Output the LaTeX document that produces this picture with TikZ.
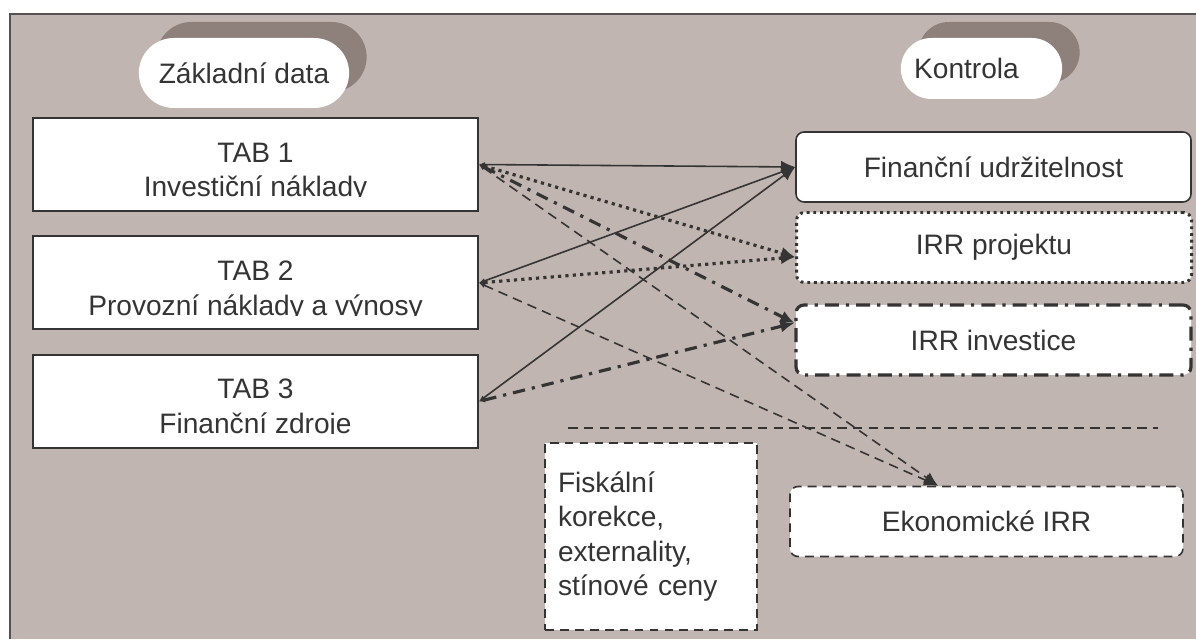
\documentclass[tikz,border=0pt]{standalone}
\usepackage{fontspec}
\setmainfont{Liberation Sans}
\usetikzlibrary{arrows.meta, positioning, shadows, shapes.misc}

\definecolor{panel}{RGB}{192,181,176}
\definecolor{shade}{RGB}{142,128,122}
\definecolor{ink}{RGB}{52,52,52}

\begin{document}
\begin{tikzpicture}[font=\fontsize{16}{19}\selectfont, text=ink, tabbox/.style={draw=ink, line width=1.1pt, fill=white, minimum width=8.9cm, minimum height=1.86cm}, pill/.style={rounded rectangle, fill=white, minimum height=1.4cm, drop shadow={shadow xshift=0.35cm, shadow yshift=0.32cm, fill=shade, opacity=1}}, kbox/.style={draw=ink, fill=white, rounded corners=0.16cm, minimum width=7.9cm, minimum height=1.4cm}, link/.style={draw=ink, {Latex[length=3.5pt,width=3pt]}-{Latex[length=8pt,width=7pt]}}, solidlink/.style={link, line width=0.9pt}, dotlink/.style={link, line width=1.8pt, dash pattern=on 1.8pt off 2.4pt}, dashdotlink/.style={link, line width=1.8pt, dash pattern=on 7pt off 4pt on 1.8pt off 4pt}, dashlink/.style={link, line width=0.9pt, dash pattern=on 5.5pt off 3.5pt}]
\useasboundingbox (0,0) rectangle (23.92,12.78);
\fill[panel] (0.2,0) rectangle (23.92,12.5);
\draw[line width=0.9pt, draw=ink!85] (0.2,0) -- (0.2,12.5) -- (23.92,12.5);
% headings
\node[pill, minimum width=4.44cm] (zaklad) at (4.88,11.32){Základní data};
\node[pill, minimum width=3.46cm, minimum height=1.22cm] (kontrola) at (19.63,11.41){Kontrola\hspace*{0.6cm}};
% input tables
\node[tabbox] (tab1) at (5.11,9.49){};
\node[tabbox, below=0.47cm of tab1] (tab2){};
\node[tabbox, below=0.47cm of tab2] (tab3){};
\foreach \i/\sub in {1/Investiční náklady, 2/Provozní náklady a výnosy, 3/Finanční zdroje} {\node[anchor=base] (head\i) at ([yshift=-0.9cm]tab\i.north){TAB \i}; \begin{scope} \clip ([yshift=0.3cm]tab\i.south west) rectangle (tab\i.north east); \node[anchor=base] (sub\i) at ([yshift=0.3cm]tab\i.south){\sub}; \end{scope}}
% checks
\node[kbox, line width=0.9pt] (fin) at (19.87,9.44){Finanční udržitelnost};
\node[kbox, line width=1.7pt, dash pattern=on 1.6pt off 2.2pt] (proj) at (19.88,7.83){IRR projektu};
\node[kbox, line width=1.8pt, dash pattern=on 8pt off 4pt on 1.8pt off 4pt] (inv) at (19.87,5.98){IRR investice};
\node[kbox, line width=0.9pt, dash pattern=on 5pt off 3.5pt, minimum width=7.86cm] (eko) at (19.73,2.35){Ekonomické IRR};
\draw[draw=ink, line width=0.9pt, dash pattern=on 5.5pt off 3.5pt] (11.36,4.22) -- (23.16,4.22);
\node[draw=ink, fill=white, line width=0.9pt, dash pattern=on 5pt off 3.5pt, minimum height=3.74cm, text width=3.72cm, inner xsep=0.26cm, align=left, font=\fontsize{16}{19.5}\selectfont] (fisk) at (13.02,2.05){Fiskální\\korekce,\\externality,\\stínové ceny};
% connectors
\draw[solidlink] (tab1.east) -- (fin.west);
\draw[solidlink] (tab2.east) -- (fin.west);
\draw[solidlink] (tab3.east) -- (fin.west);
\draw[dotlink] (tab1.east) -- ([yshift=-0.19cm]proj.west);
\draw[dotlink] (tab2.east) -- ([yshift=-0.19cm]proj.west);
\draw[dashdotlink] (tab1.east) -- ([yshift=0.34cm]inv.west);
\draw[dashdotlink] (tab3.east) -- ([yshift=0.34cm]inv.west);
\draw[dashlink] (tab1.east) -- ([xshift=-0.97cm]eko.north);
\draw[dashlink] (tab2.east) -- ([xshift=-0.97cm]eko.north);
\end{tikzpicture}
\end{document}
